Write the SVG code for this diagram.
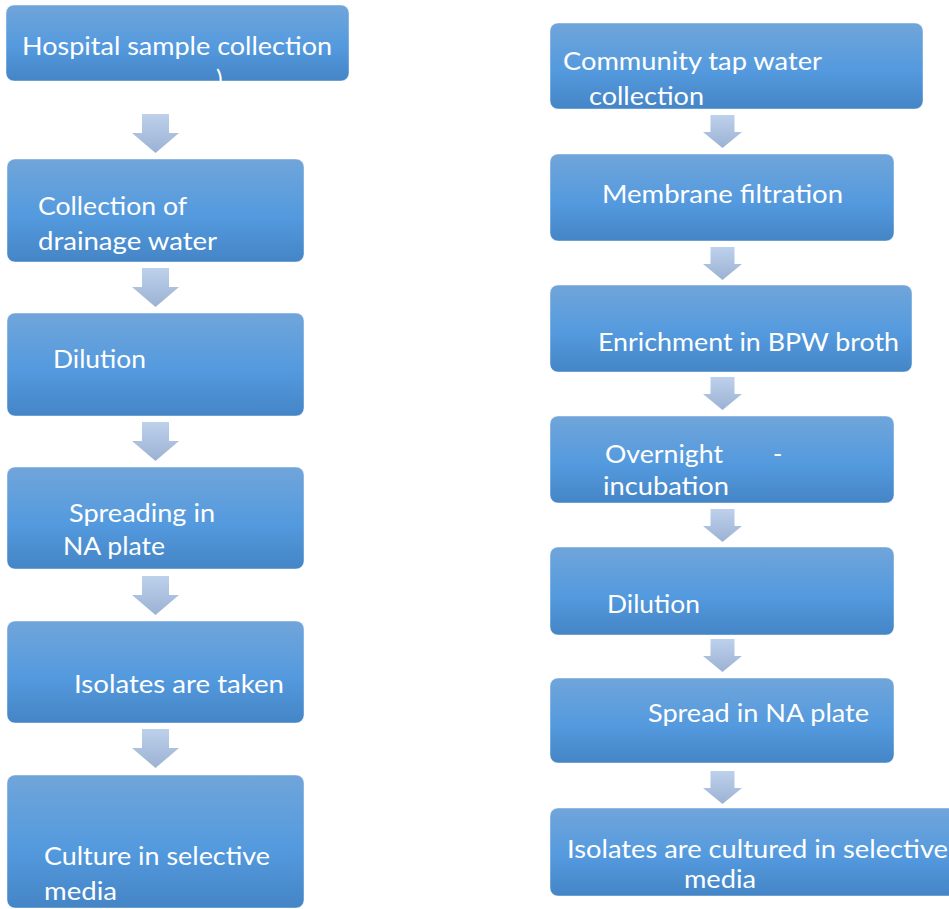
<svg xmlns="http://www.w3.org/2000/svg" xmlns:xlink="http://www.w3.org/1999/xlink" width="949" height="909" viewBox="0 0 949 909">
  <defs>
    <linearGradient id="boxFill" x1="0" y1="0" x2="0" y2="1">
      <stop offset="0" stop-color="#70a5da"/>
      <stop offset="0.55" stop-color="#549ade"/>
      <stop offset="1" stop-color="#4485c6"/>
    </linearGradient>
    <linearGradient id="arrowFill" x1="0" y1="0" x2="0" y2="1">
      <stop offset="0" stop-color="#bdd1ec"/>
      <stop offset="1" stop-color="#9cb2d3"/>
    </linearGradient>
    <!-- block arrows: wide one for the hospital column, narrow one for the tap water column -->
    <path id="arrowWide" d="M-13.5 0 H13.5 V19 H23.5 L0 39 L-23.5 19 H-13.5 Z"/>
    <path id="arrowNarrow" d="M-12 0 H12 V17 H19.5 L0 33 L-19.5 17 H-12 Z"/>
  </defs>
  <style>
    .box { fill: url(#boxFill); stroke: #ffffff; stroke-opacity: 0.45; stroke-width: 1; }
    .lbl { fill: #ffffff; font-family: Lato, "Open Sans", "Liberation Sans", sans-serif; font-size: 25px; }
    .arrow { fill: url(#arrowFill); }
  </style>
  <rect width="949" height="909" fill="#ffffff"/>

  <g id="connectors">
    <use class="arrow" xlink:href="#arrowWide" href="#arrowWide" x="155.5" y="114"/>
    <use class="arrow" xlink:href="#arrowWide" href="#arrowWide" x="155.5" y="268"/>
    <use class="arrow" xlink:href="#arrowWide" href="#arrowWide" x="155.5" y="422"/>
    <use class="arrow" xlink:href="#arrowWide" href="#arrowWide" x="155.5" y="576"/>
    <use class="arrow" xlink:href="#arrowWide" href="#arrowWide" x="155.5" y="729"/>
    <use class="arrow" xlink:href="#arrowNarrow" href="#arrowNarrow" x="722.5" y="115"/>
    <use class="arrow" xlink:href="#arrowNarrow" href="#arrowNarrow" x="722.5" y="247"/>
    <use class="arrow" xlink:href="#arrowNarrow" href="#arrowNarrow" x="722.5" y="377"/>
    <use class="arrow" xlink:href="#arrowNarrow" href="#arrowNarrow" x="722.5" y="509"/>
    <use class="arrow" xlink:href="#arrowNarrow" href="#arrowNarrow" x="722.5" y="639"/>
    <use class="arrow" xlink:href="#arrowNarrow" href="#arrowNarrow" x="722.5" y="771"/>
  </g>

  <!-- hospital column -->
  <g id="hospital-sample-collection">
    <rect class="box" x="6" y="5" width="343" height="76" rx="8"/>
    <text class="lbl" x="22" y="55" textLength="310" lengthAdjust="spacingAndGlyphs">Hospital sample collection</text>
    <text class="lbl" x="216" y="88">)</text>
  </g>
  <g id="drainage-water">
    <rect class="box" x="7" y="159" width="297" height="103" rx="8"/>
    <text class="lbl" x="38" y="215" textLength="149" lengthAdjust="spacingAndGlyphs">Collection of</text>
    <text class="lbl" x="38" y="250" textLength="179" lengthAdjust="spacingAndGlyphs">drainage water</text>
  </g>
  <g id="hospital-dilution">
    <rect class="box" x="7" y="313" width="297" height="103" rx="8"/>
    <text class="lbl" x="53" y="368" textLength="93" lengthAdjust="spacingAndGlyphs">Dilution</text>
  </g>
  <g id="spreading-na-plate">
    <rect class="box" x="7" y="467" width="297" height="102" rx="8"/>
    <text class="lbl" x="69" y="522" textLength="146" lengthAdjust="spacingAndGlyphs">Spreading in</text>
    <text class="lbl" x="63" y="555" textLength="102" lengthAdjust="spacingAndGlyphs">NA plate</text>
  </g>
  <g id="isolates-taken">
    <rect class="box" x="7" y="621" width="297" height="102" rx="8"/>
    <text class="lbl" x="74" y="693" textLength="210" lengthAdjust="spacingAndGlyphs">Isolates are taken</text>
  </g>
  <g id="selective-culture">
    <rect class="box" x="7" y="775" width="297" height="133" rx="8"/>
    <text class="lbl" x="44" y="865" textLength="226" lengthAdjust="spacingAndGlyphs">Culture in selective</text>
    <text class="lbl" x="44" y="900" textLength="73" lengthAdjust="spacingAndGlyphs">media</text>
  </g>

  <!-- tap water column -->
  <g id="tap-water-collection">
    <rect class="box" x="550" y="23" width="373" height="86" rx="8"/>
    <text class="lbl" x="563" y="70" textLength="259" lengthAdjust="spacingAndGlyphs">Community tap water</text>
    <text class="lbl" x="589" y="105" textLength="115" lengthAdjust="spacingAndGlyphs">collection</text>
  </g>
  <g id="membrane-filtration">
    <rect class="box" x="550" y="154" width="344" height="87" rx="8"/>
    <text class="lbl" x="602" y="203" textLength="241" lengthAdjust="spacingAndGlyphs">Membrane filtration</text>
  </g>
  <g id="bpw-enrichment">
    <rect class="box" x="550" y="285" width="362" height="87" rx="8"/>
    <text class="lbl" x="598" y="351" textLength="301" lengthAdjust="spacingAndGlyphs">Enrichment in BPW broth</text>
  </g>
  <g id="overnight-incubation">
    <rect class="box" x="550" y="416" width="344" height="87" rx="8"/>
    <text class="lbl" x="605" y="463" textLength="118" lengthAdjust="spacingAndGlyphs">Overnight</text>
    <text class="lbl" x="773" y="463">-</text>
    <text class="lbl" x="603" y="495" textLength="126" lengthAdjust="spacingAndGlyphs">incubation</text>
  </g>
  <g id="tap-dilution">
    <rect class="box" x="550" y="547" width="344" height="88" rx="8"/>
    <text class="lbl" x="607" y="613" textLength="93" lengthAdjust="spacingAndGlyphs">Dilution</text>
  </g>
  <g id="spread-na-plate">
    <rect class="box" x="550" y="678" width="344" height="85" rx="8"/>
    <text class="lbl" x="648" y="722" textLength="221" lengthAdjust="spacingAndGlyphs">Spread in NA plate</text>
  </g>
  <g id="selective-culture-tap">
    <rect class="box" x="550" y="808" width="420" height="88" rx="8"/>
    <text class="lbl" x="567" y="858" textLength="381" lengthAdjust="spacingAndGlyphs">Isolates are cultured in selective</text>
    <text class="lbl" x="684" y="888" textLength="72" lengthAdjust="spacingAndGlyphs">media</text>
  </g>
</svg>
